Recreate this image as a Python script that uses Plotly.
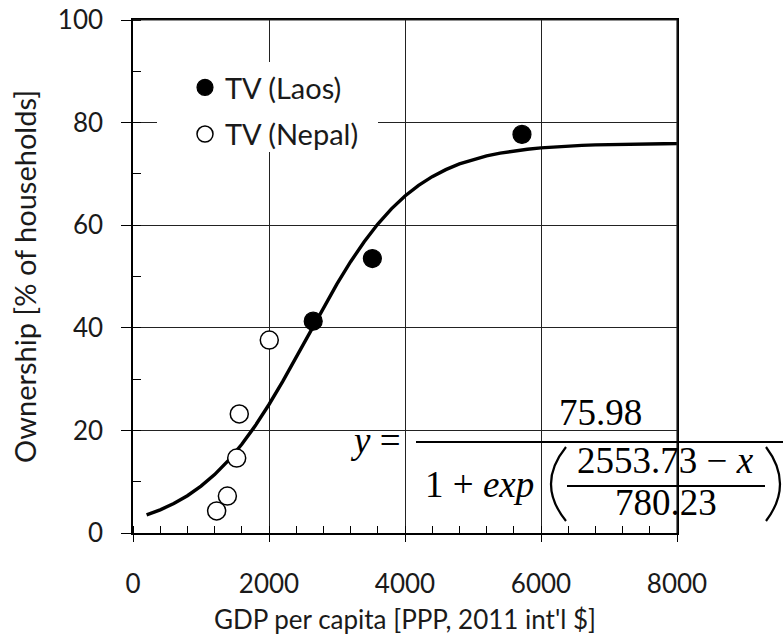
import plotly.graph_objects as go

# ---------------- data ----------------
laos_gdp = [2650, 3520, 5720]
laos_tv = [41.3, 53.5, 77.7]

nepal_gdp = [1230, 1388, 1525, 1563, 2004]
nepal_tv = [4.3, 7.2, 14.6, 23.2, 37.6]

fit_gdp = [200, 400, 600, 800, 1000, 1200, 1400, 1600, 1800, 2000,
           2200, 2400, 2600, 2800, 3000, 3200, 3400, 3600, 3800, 4000,
           4200, 4400, 4600, 4800, 5000, 5200, 5400, 5600, 5800, 6000,
           6200, 6400, 6600, 6800, 7000, 7200, 7400, 7600, 7800, 8000]
fit_tv = [3.55, 4.52, 5.74, 7.26, 9.13, 11.39, 14.10, 17.29, 20.94, 25.05,
          29.52, 34.26, 39.11, 43.93, 48.57, 52.88, 56.78, 60.22, 63.18, 65.69,
          67.76, 69.46, 70.83, 71.94, 72.81, 73.51, 74.05, 74.48, 74.81, 75.07,
          75.28, 75.43, 75.56, 75.65, 75.73, 75.78, 75.83, 75.86, 75.89, 75.91]

x_ticks = [0, 2000, 4000, 6000, 8000]
y_ticks = [0, 20, 40, 60, 80, 100]

# ---------------- layout geometry ----------------
W, H = 783, 635
L, T = 133, 20
PW, PH = 544, 513
R, B = W - L - PW, H - T - PH


def px(x):  # page pixel -> paper
    return (x - L) / PW


def py(y):
    return (T + PH - y) / PH


FONT = "Lato"
TXT = "#1a1a1a"

fig = go.Figure()

fig.add_trace(go.Scatter(
    x=fit_gdp, y=fit_tv, mode="lines",
    line=dict(color="black", width=3.4),
    showlegend=False, hoverinfo="skip"))

fig.add_trace(go.Scatter(
    x=laos_gdp, y=laos_tv, mode="markers", name="TV (Laos)",
    legendgroup="a",
    marker=dict(size=18, color="black", line=dict(color="black", width=1.2))))

fig.add_trace(go.Scatter(
    x=nepal_gdp, y=nepal_tv, mode="markers", name="TV (Nepal)",
    legendgroup="b",
    marker=dict(size=18, color="white", line=dict(color="black", width=1.5))))

axis_common = dict(
    showline=True, linecolor="black", linewidth=1.5, mirror=True,
    showgrid=True, gridcolor="#222", gridwidth=1,
    zeroline=False, ticklabeloverflow="allow",
    tickfont=dict(family=FONT, size=26, color=TXT),
    tickcolor="black", tickwidth=1.2,
)

fig.update_xaxes(
    range=[0, 8000], tickvals=x_ticks, ticktext=[str(v) for v in x_ticks],
    ticks="outside", ticklen=7, ticklabelstandoff=20,
    minor=dict(dtick=400, ticks="inside", ticklen=7, tickcolor="black",
               tickwidth=1.2, showgrid=False),
    title=dict(text="GDP per capita [PPP, 2011 int'l $]",
               font=dict(family=FONT, size=26, color=TXT), standoff=18),
    **axis_common)

fig.update_yaxes(
    range=[0, 100], tickvals=y_ticks, ticktext=[str(v) for v in y_ticks],
    ticks="outside", ticklen=10, ticklabelstandoff=13,
    minor=dict(dtick=10, ticks="inside", ticklen=8, tickcolor="black",
               tickwidth=1.2, showgrid=False),
    title=dict(text="Ownership [% of households]",
               font=dict(family=FONT, size=29, color=TXT), standoff=13),
    **axis_common)

# ---------------- equation ----------------
EQF = dict(family="Liberation Serif", size=37, color="black")
ann = []


def txt(s, cx, cy, size=None):
    f = dict(EQF)
    if size:
        f["size"] = size
    ann.append(dict(text=s, x=px(cx), y=py(cy), xref="paper", yref="paper",
                    xanchor="center", yanchor="middle", showarrow=False,
                    font=f))


txt("<i>y</i> =", 375, 440)
txt("75.98", 600, 412)
txt("1 + <i>exp</i>", 479, 484)
txt("2553.73 − <i>x</i>", 665, 460)
txt("780.23", 666, 502)

shapes = []

# white backing behind the legend (hides the gridlines there)
shapes.append(dict(type="rect", xref="paper", yref="paper", layer="above",
                   x0=px(157), x1=px(378), y0=py(152), y1=py(62),
                   fillcolor="white", line=dict(width=0)))

# top and right frame lines (the 100 / 8000 gridlines)
shapes.append(dict(type="line", xref="paper", yref="paper", layer="above",
                   x0=0, x1=1, y0=1, y1=1, line=dict(color="#222", width=1.2)))
shapes.append(dict(type="line", xref="paper", yref="paper", layer="above",
                   x0=1, x1=1, y0=0, y1=1, line=dict(color="#222", width=1.2)))


def hline(x0, x1, y, w=2.2):
    shapes.append(dict(type="line", xref="paper", yref="paper",
                       x0=px(x0), x1=px(x1), y0=py(y), y1=py(y),
                       line=dict(color="black", width=w)))


hline(416, 783, 442)
hline(567, 765, 486)


def paren(xe, xm, ytop, ybot):
    ym = (ytop + ybot) / 2
    cx = 2 * xm - xe
    path = (f"M {px(xe)},{py(ytop)} Q {px(cx)},{py(ym)} {px(xe)},{py(ybot)}")
    shapes.append(dict(type="path", xref="paper", yref="paper", path=path,
                       line=dict(color="black", width=2.2)))


paren(566, 551, 447, 521)
paren(766, 780, 447, 521)

fig.update_layout(
    width=W, height=H,
    margin=dict(l=L, r=R, t=T, b=B, autoexpand=False),
    paper_bgcolor="white", plot_bgcolor="white",
    annotations=ann, shapes=shapes,
    legend=dict(x=px(185), y=py(62), xanchor="left", yanchor="top",
                bgcolor="rgba(0,0,0,0)", borderwidth=0,
                font=dict(family=FONT, size=29, color=TXT),
                tracegroupgap=6, itemsizing="trace"),
)

fig.write_html(
    "out.html",
    config={"displayModeBar": False},
    post_script="document.body.style.margin='0';"
                "document.body.style.overflow='hidden';")
